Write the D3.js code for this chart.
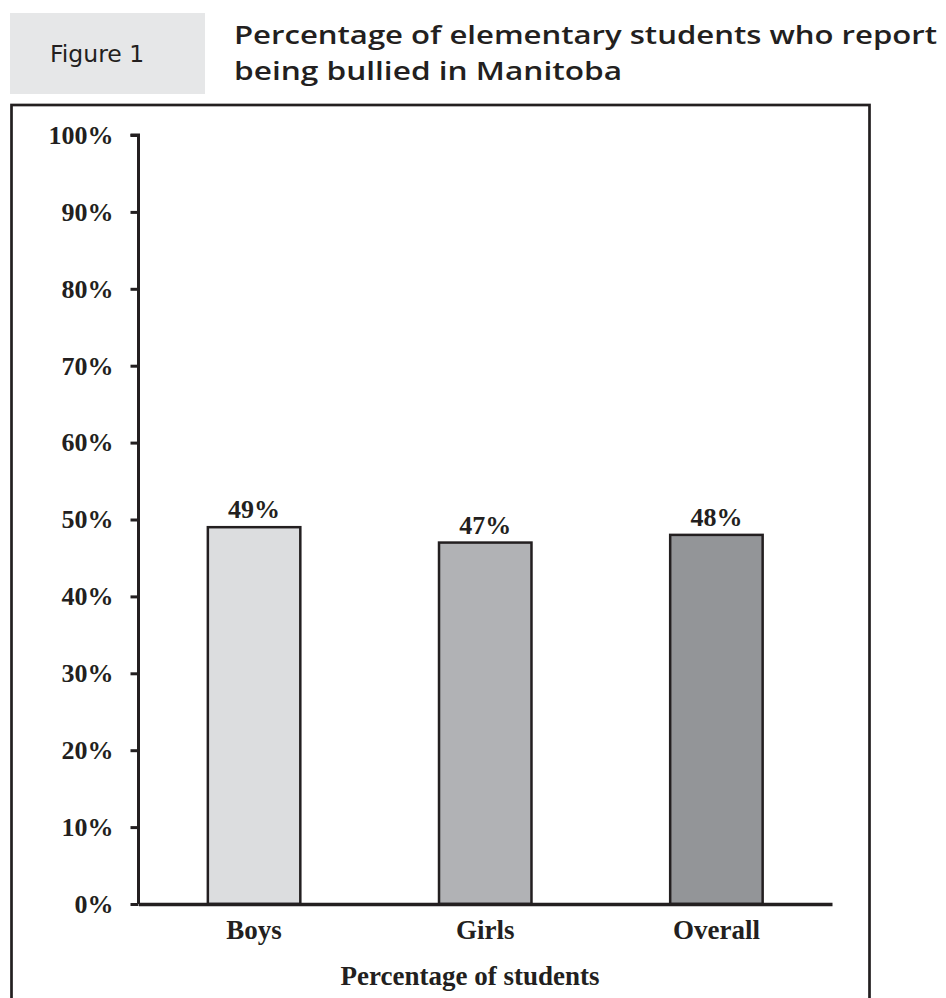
<!DOCTYPE html>
<html>
<head>
<meta charset="utf-8">
<script src="https://cdn.jsdelivr.net/npm/d3@7"></script>
<style>
  html, body { margin: 0; padding: 0; background: #fff; }
  svg { display: block; }
</style>
</head>
<body>
<svg id="chart" width="946" height="998"></svg>
<script>
// Bullying survey results, elementary students in Manitoba
const categories = ["Boys", "Girls", "Overall"];
const values = [49, 47, 48];
const barColors = ["#dcdddf", "#b1b2b5", "#939598"];
const yTicks = [0, 10, 20, 30, 40, 50, 60, 70, 80, 90, 100];
const titleLines = ["Percentage of elementary students who report", "being bullied in Manitoba"];
const titleWidths = [703, 388];
const figureLabel = "Figure 1";
const xAxisTitle = "Percentage of students";

const svg = d3.select("#chart");
const ink = "#231f20";
const serif = "Liberation Serif, Times New Roman, serif";

// Header: figure tag and two-line title
svg.append("rect").attr("x", 10).attr("y", 13).attr("width", 195).attr("height", 81).attr("fill", "#e6e7e8");
svg.append("text").attr("x", 50).attr("y", 62)
  .attr("font-family", "DejaVu Sans, Verdana, sans-serif").attr("font-size", 23.5).attr("fill", ink)
  .text(figureLabel);
svg.append("g").selectAll("text").data(titleLines).join("text")
  .attr("x", 234).attr("y", (d, i) => 44 + i * 36)
  .attr("font-family", "Open Sans, sans-serif").attr("font-weight", 600)
  .attr("font-size", 26).attr("fill", ink)
  .attr("textLength", (d, i) => titleWidths[i]).attr("lengthAdjust", "spacingAndGlyphs")
  .text(d => d);

// Chart frame
svg.append("rect").attr("x", 11.5).attr("y", 105).attr("width", 858).attr("height", 920)
  .attr("fill", "none").attr("stroke", ink).attr("stroke-width", 2.7);

const x0 = 138.5, x1 = 832, yTop = 135, yBot = 904;
const x = d3.scaleBand().domain(categories).range([x0, x1]).paddingInner(0.6).paddingOuter(0.3);
const y = d3.scaleLinear().domain([0, 100]).range([yBot, yTop]);

// Y axis
const yAxis = svg.append("g").attr("transform", `translate(${x0},0)`)
  .call(d3.axisLeft(y).tickValues(yTicks).tickFormat(d => d + "%").tickSize(8).tickPadding(17));
yAxis.select(".domain").attr("stroke", ink).attr("stroke-width", 3).attr("d", `M-8,${yTop}H0V${yBot}`);
yAxis.selectAll(".tick line").attr("stroke", ink).attr("stroke-width", 3);
yAxis.selectAll(".tick text").attr("font-family", serif)
  .attr("font-weight", "bold").attr("font-size", 26).attr("fill", ink);

// Bars
svg.append("g").selectAll("rect").data(categories).join("rect")
  .attr("x", d => x(d)).attr("y", (d, i) => y(values[i]))
  .attr("width", x.bandwidth()).attr("height", (d, i) => y(0) - y(values[i]))
  .attr("fill", (d, i) => barColors[i]).attr("stroke", ink).attr("stroke-width", 2.5);

// Value labels
svg.append("g").selectAll("text").data(categories).join("text")
  .attr("x", d => x(d) + x.bandwidth() / 2).attr("y", (d, i) => y(values[i]) - 9)
  .attr("text-anchor", "middle")
  .attr("font-family", serif).attr("font-weight", "bold")
  .attr("font-size", 26).attr("fill", ink)
  .text((d, i) => values[i] + "%");

// X axis
const xAxis = svg.append("g").attr("transform", `translate(0,${yBot})`)
  .call(d3.axisBottom(x).tickSize(0).tickPadding(16));
xAxis.select(".domain").attr("stroke", ink).attr("stroke-width", 3.5);
xAxis.selectAll(".tick text").attr("font-family", serif)
  .attr("font-weight", "bold").attr("font-size", 27).attr("fill", ink);

svg.append("text")
  .attr("x", 470).attr("y", 985).attr("text-anchor", "middle")
  .attr("font-family", serif).attr("font-weight", "bold")
  .attr("font-size", 27).attr("fill", ink)
  .text(xAxisTitle);
</script>
</body>
</html>
